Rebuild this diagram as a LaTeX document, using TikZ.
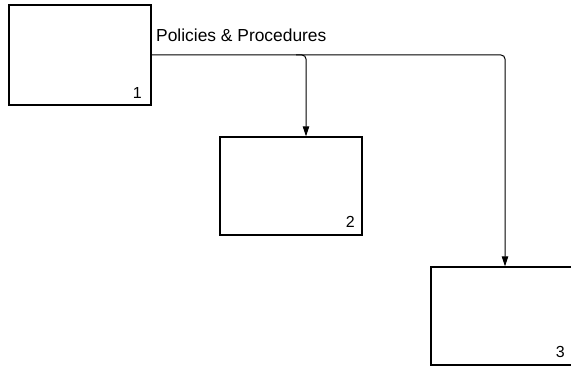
\documentclass[tikz,border=0pt]{standalone}
\usepackage{fontspec}
\setmainfont{Liberation Sans}
\usetikzlibrary{arrows.meta}
\begin{document}
\begin{tikzpicture}[x=1pt,y=-1pt,
  box/.style={draw=black, line width=1.4pt, fill=white, inner sep=0pt, rectangle},
  num/.style={inner sep=0pt, anchor=base east, font=\fontsize{16}{17}\selectfont},
  conn/.style={draw=black, line width=1pt, rounded corners=4pt},
  tip/.style={-{Triangle[length=10pt,width=6.5pt]}}]
\useasboundingbox (0,0) rectangle (571,366);
\node[box, minimum width=142pt, minimum height=100pt] (b1) at (80,55) {};
\node[box, minimum width=142pt, minimum height=98pt] (b2) at (291,186) {};
\node[box, minimum width=144pt, minimum height=98pt] (b3) at (503,316) {};
\node[num] (n1) at (142,99) {1};
\node[num] (n2) at (355,228) {2};
\node[num] (n3) at (565,358) {3};
\node[inner sep=0pt, anchor=base west, font=\fontsize{17.4}{19}\selectfont] (lbl) at (156,42) {Policies \& Procedures};
\coordinate (k2) at (306,55);
\coordinate (k3) at (505,55);
\coordinate (s2) at (296,55);
\draw[conn, tip] (b1.east) -- (k3) -- (k3 |- b3.north);
\draw[conn, tip] (s2) -- (k2) -- (k2 |- b2.north);
\end{tikzpicture}
\end{document}
